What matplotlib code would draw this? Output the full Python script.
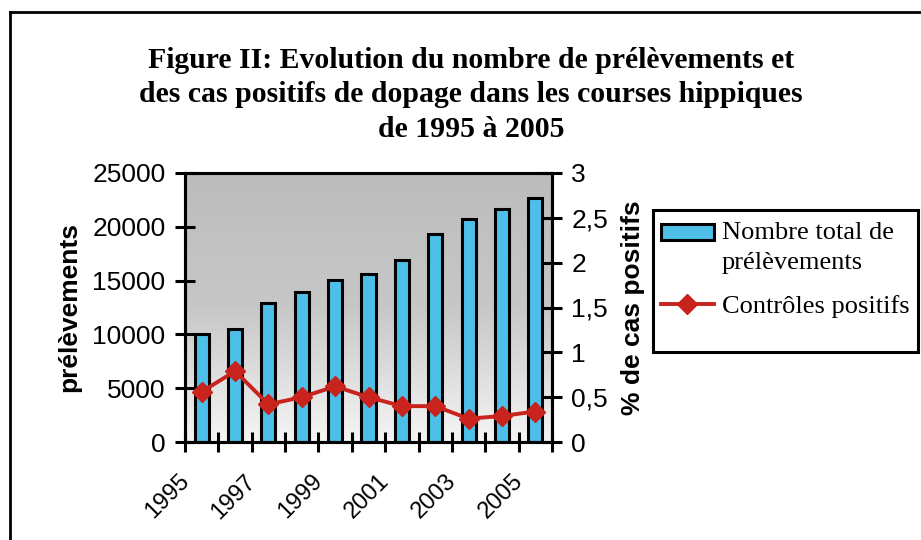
import numpy as np
import matplotlib.pyplot as plt
from matplotlib.colors import LinearSegmentedColormap
from matplotlib.lines import Line2D
from matplotlib.patches import Rectangle
from matplotlib.legend_handler import HandlerPatch
from matplotlib.transforms import ScaledTranslation

years = list(range(1995, 2006))
prelevements = [10000, 10500, 12900, 13900, 15100, 15600, 16900, 19300, 20700, 21700, 22700]
pct_positifs = [0.56, 0.79, 0.42, 0.50, 0.62, 0.50, 0.40, 0.40, 0.26, 0.29, 0.34]
left_ticks = [0, 5000, 10000, 15000, 20000, 25000]
right_ticks = [0, 0.5, 1, 1.5, 2, 2.5, 3]
right_labels = ['0', '0,5', '1', '1,5', '2', '2,5', '3']

title = ("Figure II: Evolution du nombre de prélèvements et\n"
         "des cas positifs de dopage dans les courses hippiques\n"
         "de 1995 à 2005")

bar_color = '#4dbfe9'
line_color = '#c8231c'
sans = 'Liberation Sans'
serif = 'Liberation Serif'
W, H = 921, 540

fig = plt.figure(figsize=(9.21, 5.4), dpi=100)
ax = fig.add_axes([185 / W, 1 - 442 / H, 367 / W, 269 / H])
ax2 = ax.twinx()

x = np.arange(len(years))

# gray gradient background of the plot area
grad = np.linspace(0, 1, 256).reshape(-1, 1)
cmap = LinearSegmentedColormap.from_list('bg', [(0, '#bdbcbd'), (0.5, '#c8c7c8'),
                                                (1, '#f5f5f5')])
ax.imshow(grad, cmap=cmap, aspect='auto', extent=(-0.5, 10.5, 0, 25000),
          origin='upper', zorder=0)

bars = ax.bar(x, prelevements, width=0.42, color=bar_color, edgecolor='black',
              linewidth=2.2, zorder=2)
ax.set_xlim(-0.5, 10.5)
ax.set_ylim(0, 25000)
ax.set_yticks(left_ticks)
ax.set_yticklabels([str(v) for v in left_ticks], fontfamily=sans, fontsize=19)
ax.tick_params(axis='y', direction='inout', length=14, width=2.2, pad=7)

ax.set_xticks(x[::2])
ax.set_xticklabels([str(y) for y in years[::2]], rotation=45, ha='right',
                   va='center', rotation_mode='anchor', fontfamily=sans, fontsize=17)
ax.tick_params(axis='x', which='major', length=0, pad=26)
shift = ScaledTranslation(-16 / 100, 0, fig.dpi_scale_trans)
for lab in ax.get_xticklabels():
    lab.set_transform(lab.get_transform() + shift)
ax.set_xticks(np.arange(-0.5, 11, 1), minor=True)
ax.tick_params(axis='x', which='minor', direction='inout', length=14, width=2.2)

for s in ax.spines.values():
    s.set_linewidth(2.2)

ax.set_ylabel('prélèvements', fontfamily=sans, fontweight='bold', fontsize=19, labelpad=8)

line, = ax2.plot(x, pct_positifs, color=line_color, linewidth=2.8, marker='D',
                 markersize=10, zorder=3)
ax2.set_ylim(0, 3)
ax2.set_yticks(right_ticks)
ax2.set_yticklabels(right_labels, fontfamily=sans, fontsize=19)
ax2.tick_params(axis='y', direction='inout', length=14, width=2.2, pad=7)
ax2.set_ylabel('% de cas positifs', fontfamily=sans, fontweight='bold', fontsize=19,
               labelpad=9)
for s in ax2.spines.values():
    s.set_linewidth(2.2)


def top_patch(legend, orig_handle, xdescent, ydescent, width, height, fontsize):
    # bar swatch aligned with the first line of the two-line label
    return Rectangle((-xdescent, -ydescent + 0.62 * fontsize), width, height * 0.85)


# legend box
fig.add_artist(Rectangle((653 / W, 1 - 352 / H), 265 / W, 142 / H,
                         transform=fig.transFigure, facecolor='white',
                         edgecolor='black', linewidth=2.2))
leg = fig.legend([bars[0], line], ['Nombre total de\nprélèvements', 'Contrôles positifs'],
                 loc='upper left', bbox_to_anchor=(661 / W, 1 - 222 / H),
                 frameon=False, prop={'family': serif, 'size': 19},
                 handlelength=2.0, handletextpad=0.3, borderpad=0.0,
                 labelspacing=0.8, borderaxespad=0,
                 handler_map={Rectangle: HandlerPatch(patch_func=top_patch)})
for t in leg.get_texts():
    t.set_linespacing(1.45)

fig.text(471 / W, 1 - 95 / H, title, ha='center', va='center', fontfamily=serif,
         fontweight='bold', fontsize=21.4, linespacing=1.38)

# outer frame (left and top edges visible)
fig.add_artist(Line2D([10 / W, 10 / W], [0, 1 - 12 / H], color='black',
                      linewidth=2, transform=fig.transFigure))
fig.add_artist(Line2D([10 / W, 1], [1 - 12 / H, 1 - 12 / H], color='black',
                      linewidth=2, transform=fig.transFigure))

fig.savefig('out.png', dpi=100)
